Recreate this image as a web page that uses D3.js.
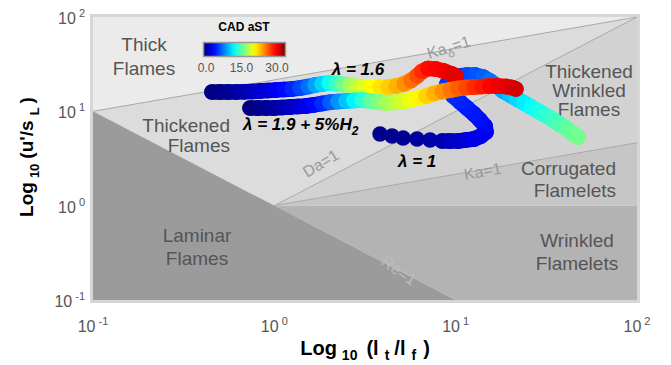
<!DOCTYPE html>
<html>
<head>
<meta charset="utf-8">
<script src="https://cdn.jsdelivr.net/npm/d3@7"></script>
<style>
  body { margin: 0; background: #fff; }
  svg { display: block; font-family: "Liberation Sans", Arial, sans-serif; }
</style>
</head>
<body>
<div id="plot"></div>
<script>
// Values are log10 of (l_t/l_f) and (u'/s_L), as on the axes
const ticks = [-1, 0, 1, 2];

// regime diagram boundaries (log10 space)
const regimeNames = ['Thick', 'Thickened', 'ThickWrinkled', 'Corrugated', 'Wrinkled', 'Laminar'];
const regimePolys = [
  [[-1, 1], [-1, 2], [2, 2]],
  [[-1, 1], [2, 2], [0, 0]],
  [[0, 0], [2, 2], [2, 2 / 3]],
  [[0, 0], [2, 2 / 3], [2, 0]],
  [[0, 0], [2, 0], [2, -1], [1, -1]],
  [[-1, 1], [-1, -1], [1, -1]]
];
const kaDeltaLine = [[-1, 1], [2, 2]];
const daLine = [[0, 0], [2, 2]];
const kaLine = [[0, 0], [2, 2 / 3]];

// trajectories: [log10(lt/lf), log10(u'/sL), CAD aST]
const lambda1 = [
  [0.583, 0.760, 0.3], [0.649, 0.739, 0.5], [0.710, 0.717, 0.7], [0.787, 0.707, 0.9],
  [0.859, 0.696, 1.1], [0.925, 0.686, 1.4], [0.969, 0.686, 1.8], [1.013, 0.686, 2.2],
  [1.057, 0.696, 2.6], [1.101, 0.707, 3.0], [1.140, 0.739, 3.3], [1.167, 0.781, 3.6],
  [1.162, 0.845, 3.9], [1.134, 0.908, 4.1], [1.101, 0.972, 4.3], [1.063, 1.035, 4.5],
  [1.024, 1.099, 4.7], [0.986, 1.163, 4.9], [0.958, 1.226, 5.1], [0.952, 1.290, 5.3],
  [0.980, 1.343, 5.5], [1.018, 1.375, 5.7], [1.063, 1.385, 5.9], [1.107, 1.385, 6.2],
  [1.151, 1.364, 6.6], [1.189, 1.322, 7.2], [1.228, 1.269, 8.0], [1.261, 1.216, 8.8],
  [1.299, 1.173, 9.5], [1.338, 1.131, 10.2], [1.377, 1.088, 10.8], [1.415, 1.046, 11.4],
  [1.454, 1.004, 12.0], [1.492, 0.961, 12.5], [1.531, 0.919, 13.0], [1.570, 0.866, 13.5],
  [1.608, 0.824, 14.0], [1.641, 0.771, 14.3], [1.674, 0.728, 14.6]
];
const lambda16 = [
  [-0.344, 1.205, 0], [-0.300, 1.205, 0.3], [-0.255, 1.205, 0.6], [-0.211, 1.205, 1.0],
  [-0.167, 1.208, 1.4], [-0.123, 1.211, 1.8], [-0.079, 1.216, 2.3], [-0.035, 1.221, 2.8],
  [0.009, 1.226, 3.4], [0.053, 1.232, 4.0], [0.097, 1.237, 4.8], [0.142, 1.247, 5.8],
  [0.186, 1.263, 7.0], [0.224, 1.279, 8.5], [0.263, 1.290, 10.0], [0.302, 1.300, 11.5],
  [0.340, 1.295, 13.0], [0.379, 1.285, 14.5], [0.417, 1.274, 16.0], [0.456, 1.263, 17.0],
  [0.495, 1.258, 18.0], [0.539, 1.258, 18.8], [0.583, 1.258, 19.5], [0.627, 1.258, 20.2],
  [0.671, 1.269, 21.0], [0.715, 1.290, 22.0], [0.754, 1.327, 23.0], [0.787, 1.375, 24.0],
  [0.814, 1.422, 25.0], [0.847, 1.454, 26.0], [0.891, 1.449, 26.3], [0.935, 1.428, 26.6],
  [0.979, 1.396, 27.0], [1.002, 1.375, 27.0]
];
const lambda19H2 = [
  [-0.134, 1.035, 0], [-0.090, 1.035, 0.3], [-0.046, 1.035, 0.6], [-0.002, 1.035, 1.0],
  [0.042, 1.041, 1.4], [0.086, 1.046, 1.9], [0.131, 1.051, 2.5], [0.175, 1.057, 3.2],
  [0.219, 1.069, 4.0], [0.263, 1.083, 5.0], [0.307, 1.096, 6.5], [0.351, 1.104, 8.0],
  [0.395, 1.110, 9.5], [0.439, 1.115, 11.0], [0.484, 1.120, 12.5], [0.528, 1.110, 14.0],
  [0.572, 1.099, 15.0], [0.616, 1.088, 16.0], [0.660, 1.094, 16.8], [0.704, 1.104, 17.5],
  [0.748, 1.120, 18.3], [0.792, 1.141, 19.0], [0.836, 1.163, 20.0], [0.880, 1.189, 21.0],
  [0.925, 1.210, 22.0], [0.969, 1.226, 22.8], [1.013, 1.242, 23.5], [1.057, 1.253, 24.2],
  [1.101, 1.258, 25.0], [1.145, 1.263, 25.6], [1.189, 1.269, 26.2], [1.233, 1.269, 26.7],
  [1.277, 1.263, 27.0], [1.310, 1.253, 27.3], [1.332, 1.237, 27.5]
];
const cadTicks = [0, 15, 30];

const width = 671, height = 365;
const margin = { top: 17, right: 34, bottom: 65, left: 93 };

const svg = d3.select('#plot')
  .append('svg')
  .attr('width', width)
  .attr('height', height)
  .style('background', '#fff');

const x = d3.scaleLinear().domain([-1, 2]).range([margin.left, width - margin.right]);
const y = d3.scaleLinear().domain([-1, 2]).range([height - margin.bottom, margin.top]);

// jet colormap
const clamp = v => Math.max(0, Math.min(1, v));
const jet = t => d3.rgb(
  255 * clamp(1.5 - Math.abs(4 * t - 3)),
  255 * clamp(1.5 - Math.abs(4 * t - 2)),
  255 * clamp(1.5 - Math.abs(4 * t - 1))
).toString();
const color = d3.scaleSequential(jet).domain([0, 30]);

// regime areas
const regimeFill = ['#ebebeb', '#dcdcdc', '#d2d2d2', '#c6c6c6', '#b3b3b3', '#9b9b9b'];
const line = d3.line().x(d => x(d[0])).y(d => y(d[1]));

svg.append('g')
  .selectAll('path')
  .data(regimePolys)
  .join('path')
  .attr('d', d => line(d) + 'Z')
  .attr('fill', (d, i) => regimeFill[i]);

svg.append('g')
  .selectAll('path')
  .data([kaDeltaLine, daLine, kaLine])
  .join('path')
  .attr('d', line)
  .attr('fill', 'none')
  .attr('stroke', '#a8a8a8')
  .attr('stroke-width', 1);

// plot frame
svg.append('rect')
  .attr('x', margin.left - 1.5)
  .attr('y', margin.top - 1.5)
  .attr('width', width - margin.left - margin.right + 3)
  .attr('height', height - margin.top - margin.bottom + 3)
  .attr('fill', 'none')
  .attr('stroke', '#d6d6d6')
  .attr('stroke-width', 3);

// regime labels
const regLabels = [
  ['Thick', 144, 51, 'middle'], ['Flames', 144, 75, 'middle'],
  ['Thickened', 230, 132, 'end'], ['Flames', 230, 152, 'end'],
  ['Thickened', 589, 78, 'middle'], ['Wrinkled', 589, 97, 'middle'], ['Flames', 589, 116, 'middle'],
  ['Corrugated', 616, 175, 'end'], ['Flamelets', 616, 197, 'end'],
  ['Laminar', 197, 242, 'middle'], ['Flames', 197, 265, 'middle'],
  ['Wrinkled', 577, 247, 'middle'], ['Flamelets', 577, 270, 'middle']
];
svg.append('g')
  .selectAll('text')
  .data(regLabels)
  .join('text')
  .attr('x', d => d[1])
  .attr('y', d => d[2])
  .attr('text-anchor', d => d[3])
  .style('font-size', '19px')
  .style('fill', '#555')
  .text(d => d[0]);

// boundary labels
const bl = svg.append('g').style('fill', '#999').style('font-size', '16px');
const kd = bl.append('text').attr('transform', 'translate(429,59) rotate(-17)');
kd.append('tspan').text('Ka');
kd.append('tspan').attr('dy', 5).style('font-size', '12px').text('δ');
kd.append('tspan').attr('dy', -5).text('=1');
bl.append('text').attr('transform', 'translate(307,178) rotate(-31)').text('Da=1');
bl.append('text').attr('transform', 'translate(465,180) rotate(-10)').text('Ka=1');
bl.append('text').attr('transform', 'translate(380,264) rotate(35)')
  .style('fill', '#bcbcbc').text('Re=1');

// trajectories: thick segments between close neighbours, circles on top
const R = 7.8;
[lambda1, lambda16, lambda19H2].forEach(series => {
  const g = svg.append('g');
  const pairs = d3.pairs(series).filter(([a, b]) =>
    Math.hypot(x(a[0]) - x(b[0]), y(a[1]) - y(b[1])) < 10);
  g.selectAll('line')
    .data(pairs)
    .join('line')
    .attr('x1', d => x(d[0][0]))
    .attr('y1', d => y(d[0][1]))
    .attr('x2', d => x(d[1][0]))
    .attr('y2', d => y(d[1][1]))
    .attr('stroke', d => color(d[0][2]))
    .attr('stroke-width', 2 * R)
    .attr('stroke-linecap', 'round');
  g.selectAll('circle')
    .data(series)
    .join('circle')
    .attr('cx', d => x(d[0]))
    .attr('cy', d => y(d[1]))
    .attr('r', R)
    .attr('fill', d => color(d[2]));
});

// series labels
const sl = svg.append('g').style('font-size', '17px').style('font-weight', 'bold')
  .style('font-style', 'italic').style('fill', '#000');
sl.append('text').attr('x', 358).attr('y', 75).attr('text-anchor', 'middle').text('λ = 1.6');
const s19 = sl.append('text').attr('x', 243).attr('y', 130);
s19.append('tspan').text('λ = 1.9 + 5%H');
s19.append('tspan').attr('dy', 5).style('font-size', '12px').text('2');
sl.append('text').attr('x', 398).attr('y', 167).text('λ = 1');

// colorbar
const grad = svg.append('defs').append('linearGradient').attr('id', 'jet');
d3.range(0, 1.0001, 0.05).forEach(t => {
  grad.append('stop').attr('offset', t).attr('stop-color', jet(t));
});
const cb = d3.scaleLinear().domain([0, 30]).range([206, 277]);
svg.append('rect')
  .attr('x', 203.5).attr('y', 42.5).attr('width', 82).attr('height', 14)
  .attr('fill', 'url(#jet)').attr('stroke', '#999').attr('stroke-width', 1.5);
svg.append('text')
  .attr('x', 244).attr('y', 31).attr('text-anchor', 'middle')
  .style('font-size', '12px').style('font-weight', 'bold').text('CAD aST');
svg.append('g')
  .selectAll('text')
  .data(cadTicks)
  .join('text')
  .attr('x', d => cb(d))
  .attr('y', 72)
  .attr('text-anchor', 'middle')
  .style('font-size', '12px')
  .style('fill', '#555')
  .text(d => d.toFixed(1));

// axis tick labels: 10^n
function powLabel(sel) {
  sel.append('tspan').text('10');
  sel.append('tspan').attr('dx', 3).attr('dy', -7).style('font-size', '11px').text(d => d);
}
svg.append('g')
  .selectAll('text')
  .data(ticks)
  .join('text')
  .attr('x', d => x(d))
  .attr('y', 332)
  .attr('text-anchor', 'middle')
  .style('font-size', '16px')
  .style('fill', '#555')
  .call(powLabel);

svg.append('g')
  .selectAll('text')
  .data(ticks)
  .join('text')
  .attr('x', 85)
  .attr('y', d => y(d) + 7)
  .attr('text-anchor', 'end')
  .style('font-size', '16px')
  .style('fill', '#555')
  .call(powLabel);

// axis titles
const xt = svg.append('text')
  .attr('x', 365).attr('y', 355).attr('text-anchor', 'middle')
  .style('font-size', '20px').style('font-weight', 'bold');
xt.append('tspan').text('Log');
xt.append('tspan').attr('dx', 5).attr('dy', 5).style('font-size', '14px').text('10');
xt.append('tspan').attr('dx', 9).attr('dy', -5).text('(l');
xt.append('tspan').attr('dx', 6).attr('dy', 5).style('font-size', '14px').text('t');
xt.append('tspan').attr('dx', 5).attr('dy', -5).text('/l');
xt.append('tspan').attr('dx', 6).attr('dy', 5).style('font-size', '14px').text('f');
xt.append('tspan').attr('dx', 7).attr('dy', -5).text(')');

const yt = svg.append('text')
  .attr('transform', 'translate(33,157) rotate(-90)').attr('text-anchor', 'middle')
  .style('font-size', '19px').style('font-weight', 'bold');
yt.append('tspan').text('Log');
yt.append('tspan').attr('dx', 4).attr('dy', 6).style('font-size', '13px').text('10');
yt.append('tspan').attr('dx', 5).attr('dy', -6).text("(u'/s");
yt.append('tspan').attr('dx', 5).attr('dy', 6).style('font-size', '13px').text('L');
yt.append('tspan').attr('dx', 4).attr('dy', -6).text(')');
</script>
</body>
</html>
